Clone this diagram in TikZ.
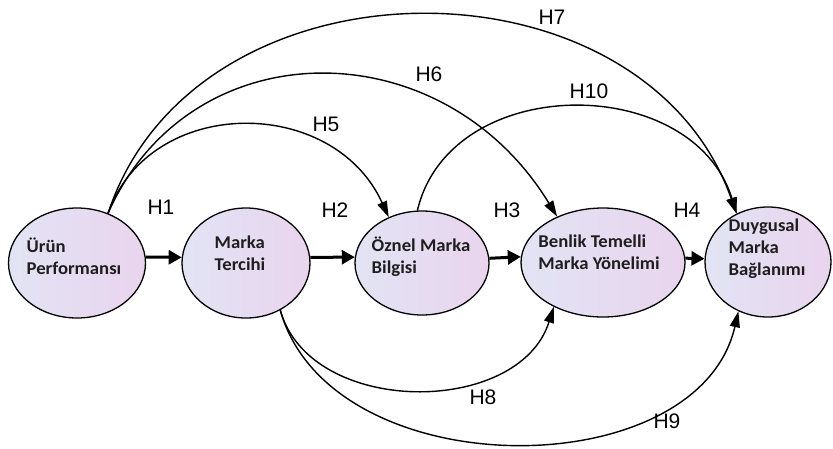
\documentclass[tikz,border=0pt]{standalone}
\usepackage{fontspec}
\setmainfont{Liberation Sans}
\newfontfamily\calfont[FakeStretch=1.04]{Carlito}
\usetikzlibrary{shapes.geometric,arrows.meta}
\definecolor{ellL}{RGB}{226,228,244}
\definecolor{ellR}{RGB}{233,212,238}
\definecolor{txt}{RGB}{30,30,30}
\begin{document}
\begin{tikzpicture}[x=1pt,y=-1pt,
  ell/.style={ellipse, draw=black, line width=1.3pt, left color=ellL, right color=ellR, inner sep=0pt},
  lab/.style={font=\calfont\bfseries\fontsize{18}{22}\selectfont, text=txt, align=left, inner sep=0pt},
  hyp/.style={font=\fontsize{21}{21}\selectfont, inner sep=0pt},
  bigarrow/.style={line width=3pt, -{Triangle[length=13pt,width=14pt]}},
  curvearrow/.style={line width=1.4pt, -{Triangle[length=16pt,width=10pt]}}]
\useasboundingbox (0,0) rectangle (833,448);
\fill[white] (0,0) rectangle (833,448);

% ellipses
\node[ell, minimum width=137pt, minimum height=110pt] (e1) at (77,263) {};
\node[ell, minimum width=128pt, minimum height=110pt] (e2) at (246,263) {};
\node[ell, minimum width=134pt, minimum height=104pt] (e3) at (422,263) {};
\node[ell, minimum width=164pt, minimum height=109pt] (e4) at (603,262.5) {};
\node[ell, minimum width=126pt, minimum height=110pt] (e5) at (768,262) {};

% texts
\node[lab] (t1) at (74,256) {Ürün\\Performansı};
\node[lab] (t2) at (240,253) {Marka\\Tercihi};
\node[lab] (t3) at (421,257) {Öznel Marka\\Bilgisi};
\node[lab] (t4) at (599,252) {Benlik Temelli\\Marka Yönelimi};
\node[lab] (t5) at (767,249) {Duygusal\\Marka\\Bağlanımı};

% straight arrows
\draw[bigarrow] (e1.5) -- (e2.175);
\draw[bigarrow] (e2.5) -- (e3.175);
\draw[bigarrow] (e3.4) -- (e4.176);
\draw[bigarrow] (e4.3) -- (e5.177);

% curved arrows
\draw[curvearrow] (e1.58) .. controls (150,95) and (333,95) .. (e3.126);
\draw[curvearrow] (e1.58) .. controls (190,28) and (442,28) .. (e4.135);
\draw[curvearrow] (e1.58) .. controls (195,-51) and (643,-51) .. (e5.123);
\draw[curvearrow] (e3.95) .. controls (450,72) and (693,72) .. (e5.123);
\draw[curvearrow] (e2.-54) .. controls (310,417) and (519,417) .. (e4.222);
\draw[curvearrow] (e2.-54) .. controls (330,488) and (698,488) .. (e5.239);

% labels
\node[hyp] (h1) at (161,207) {H1};
\node[hyp] (h2) at (335,210) {H2};
\node[hyp] (h3) at (507,210) {H3};
\node[hyp] (h4) at (687,210) {H4};
\node[hyp] (h5) at (326,124) {H5};
\node[hyp] (h6) at (429,74) {H6};
\node[hyp] (h7) at (552,17) {H7};
\node[hyp] (h10) at (589,91) {H10};
\node[hyp] (h8) at (483,397) {H8};
\node[hyp] (h9) at (667,421) {H9};
\end{tikzpicture}
\end{document}
